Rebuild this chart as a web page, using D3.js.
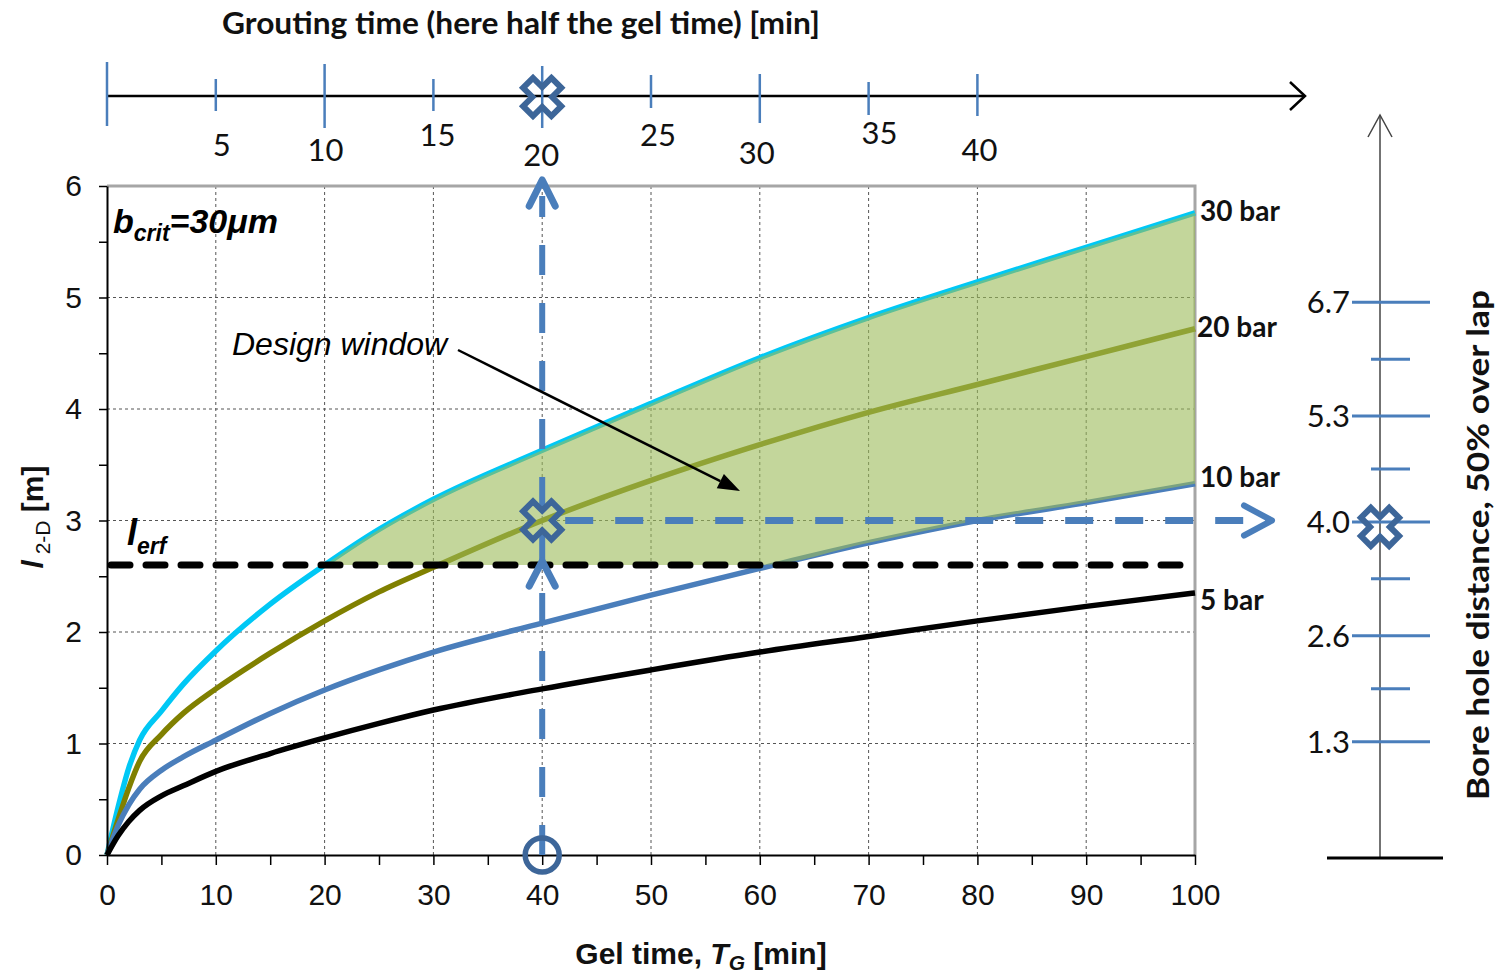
<!DOCTYPE html>
<html>
<head>
<meta charset="utf-8">
<script src="https://cdn.jsdelivr.net/npm/d3@7"></script>
<style>
  body { margin: 0; background: #fff; }
  svg { display: block; }
</style>
</head>
<body>
<svg id="chart" width="1496" height="977"></svg>
<script>
// ---- data -------------------------------------------------------------
const gelTime = [0, 1, 2, 3, 5, 7, 10, 15, 20, 25, 30, 40, 50, 60, 70, 80, 90, 100];
const bar30 = [0, 0.42, 0.78, 1.03, 1.29, 1.53, 1.83, 2.25, 2.60, 2.92, 3.19, 3.63, 4.05, 4.46, 4.82, 5.14, 5.45, 5.76];
const bar20 = [0, 0.31, 0.60, 0.84, 1.08, 1.27, 1.49, 1.81, 2.10, 2.36, 2.58, 3.00, 3.36, 3.68, 3.97, 4.22, 4.47, 4.72];
const bar10 = [0, 0.26, 0.45, 0.59, 0.76, 0.88, 1.03, 1.27, 1.48, 1.66, 1.82, 2.08, 2.33, 2.57, 2.80, 3.00, 3.16, 3.33];
const bar5  = [0, 0.17, 0.30, 0.40, 0.53, 0.62, 0.75, 0.91, 1.05, 1.18, 1.30, 1.49, 1.66, 1.82, 1.96, 2.10, 2.23, 2.35];
const seriesNames = ["30 bar", "20 bar", "10 bar", "5 bar"];
const seriesColors = ["#00c8f5", "#808000", "#4a7ebb", "#000000"];

const lErf = 2.6;               // required penetration length [m]
const designGelTime = 40;       // chosen gel time [min]
const designLength = 3.0;       // resulting l_2-D [m]
const designBoreDistance = 4.0; // bore hole distance at 50 % overlap

const xMajorTicks = [0, 10, 20, 30, 40, 50, 60, 70, 80, 90, 100];
const yMajorTicks = [0, 1, 2, 3, 4, 5, 6];
const groutTicks = [0, 5, 10, 15, 20, 25, 30, 35, 40];
const boreTicks = [1.3, 2.6, 4.0, 5.3, 6.7];
const boreMinorTicks = [1.95, 3.3, 4.65, 6.0];

// hand-placed offsets of the grouting-time scale (tick half lengths, label shifts)
const groutTickUp   = [34, 17, 32, 17, 30, 21, 22, 14, 22];
const groutTickDown = [30, 15, 32, 15, 32, 12, 27, 19, 20];
const groutLabelDx  = [0, 6, 1, 4, -1, 7, -3, 11, 2];
const groutLabelDy  = [0, 49, 54, 39, 59, 39, 57, 37, 54];

// ---- layout -----------------------------------------------------------
const svg = d3.select("#chart");
const x = d3.scaleLinear().domain([0, 100]).range([107, 1195]);
const y = d3.scaleLinear().domain([0, 6]).range([855, 186]);
const bore = d3.scaleLinear().domain([-0.13, 9.0]).range([858, 115]);
const groutY = 96;
const boreX = 1380;

const ARIAL = "'Liberation Sans', Arial, sans-serif";
const CAL = "Lato, 'Open Sans', sans-serif";
const markerBlue = "#3d6699";
const arrowBlue = "#4a7ebb";

// ---- grid ---------------------------------------------------------------
const grid = svg.append("g");
grid.selectAll("line.v").data(xMajorTicks.slice(1, -1)).join("line")
  .attr("x1", d => x(d)).attr("x2", d => x(d)).attr("y1", y(0)).attr("y2", y(6))
  .attr("stroke", "#555").attr("stroke-width", 1).attr("stroke-dasharray", "3,3");
grid.selectAll("line.h").data(yMajorTicks.slice(1, -1)).join("line")
  .attr("x1", x(0)).attr("x2", x(100)).attr("y1", d => y(d)).attr("y2", d => y(d))
  .attr("stroke", "#555").attr("stroke-width", 1).attr("stroke-dasharray", "3,3");

// plot frame (top / right)
svg.append("path")
  .attr("d", `M${x(0)},${y(6)}H${x(100)}V${y(0)}`)
  .attr("fill", "none").attr("stroke", "#a6a6a6").attr("stroke-width", 3);

// ---- curves -------------------------------------------------------------
const series = [bar30, bar20, bar10, bar5];
const line = d3.line().x((d, i) => x(gelTime[i])).y(d => y(d)).curve(d3.curveMonotoneX);
svg.append("g").selectAll("path").data(series).join("path")
  .attr("d", d => line(d))
  .attr("fill", "none")
  .attr("stroke", (d, i) => seriesColors[i])
  .attr("stroke-width", 5.5)
  .attr("stroke-linejoin", "round");

// ---- design window (between 30 bar and max(l_erf, 10 bar)) -------------
const windowIdx = gelTime.map((t, i) => i).filter(i => bar30[i] >= lErf);
const area = d3.area()
  .x(i => x(gelTime[i]))
  .y0(i => y(Math.max(lErf, bar10[i])))
  .y1(i => y(bar30[i]))
  .curve(d3.curveMonotoneX);
svg.append("path").attr("d", area(windowIdx))
  .attr("fill", "#9bbb59").attr("fill-opacity", 0.6);

// ---- axes ---------------------------------------------------------------
const xAxis = d3.axisBottom(x)
  .tickValues(d3.range(0, 101, 5))
  .tickFormat(d => xMajorTicks.includes(d) ? d : "")
  .tickSize(10).tickSizeOuter(0).tickPadding(19);
const gx = svg.append("g").attr("transform", `translate(0,${y(0)})`).call(xAxis);
const yAxis = d3.axisLeft(y)
  .tickValues(d3.range(0, 6.01, 0.5))
  .tickFormat(d => yMajorTicks.includes(d) ? d : "")
  .tickSize(8).tickSizeOuter(0).tickPadding(17);
const gy = svg.append("g").attr("transform", `translate(${x(0)},0)`).call(yAxis);
[gx, gy].forEach(g => {
  g.attr("font-family", ARIAL);
  g.select(".domain").attr("stroke", "#000").attr("stroke-width", 2);
  g.selectAll(".tick line").attr("stroke", "#000").attr("stroke-width", 1.5);
  g.selectAll(".tick text").attr("font-family", ARIAL).attr("font-size", 30).attr("fill", "#111");
});

// ---- l_erf line ---------------------------------------------------------
svg.append("line")
  .attr("x1", x(0) + 4).attr("x2", x(100) - 8)
  .attr("y1", y(lErf)).attr("y2", y(lErf))
  .attr("stroke", "#000").attr("stroke-width", 7)
  .attr("stroke-linecap", "round").attr("stroke-dasharray", "19,16");

// ---- design path (blue dashed arrows) -----------------------------------
const dx0 = x(designGelTime), dy0 = y(designLength);
svg.append("line")
  .attr("x1", dx0).attr("x2", dx0).attr("y1", y(0)).attr("y2", y(6) + 10)
  .attr("stroke", arrowBlue).attr("stroke-width", 6).attr("stroke-dasharray", "30,28");
function chevron(tipX, tipY, ax, ay, w) {
  svg.append("path")
    .attr("d", `M${tipX + ax.x},${tipY + ax.y}L${tipX},${tipY}L${tipX + ay.x},${tipY + ay.y}`)
    .attr("fill", "none").attr("stroke", arrowBlue).attr("stroke-width", w)
    .attr("stroke-linecap", "round").attr("stroke-linejoin", "round");
}
chevron(dx0, y(6) - 6, {x: -13, y: 26}, {x: 13, y: 26}, 7);
chevron(dx0, y(lErf) - 4, {x: -13, y: 25}, {x: 13, y: 25}, 7);

const horizEnd = 1272;
svg.append("line")
  .attr("x1", dx0 + 23).attr("x2", horizEnd - 4).attr("y1", dy0).attr("y2", dy0)
  .attr("stroke", arrowBlue).attr("stroke-width", 7).attr("stroke-dasharray", "28,22");
chevron(horizEnd, dy0, {x: -28, y: -15}, {x: -28, y: 15}, 6);

// markers
function crossPath(L, w) {
  const pts = [[-w,-L],[w,-L],[w,-w],[L,-w],[L,w],[w,w],[w,L],[-w,L],[-w,w],[-L,w],[-L,-w],[-w,-w]];
  const r = Math.SQRT1_2;
  return "M" + pts.map(([a, b]) => [(a - b) * r, (a + b) * r].join(",")).join("L") + "Z";
}
function cross(cx, cy) {
  svg.append("path").attr("d", crossPath(20, 7))
    .attr("transform", `translate(${cx},${cy})`)
    .attr("fill", "none").attr("stroke", markerBlue).attr("stroke-width", 6)
    .attr("stroke-linejoin", "miter");
}
svg.append("circle").attr("cx", dx0).attr("cy", y(0)).attr("r", 17)
  .attr("fill", "none").attr("stroke", markerBlue).attr("stroke-width", 5.5);
cross(dx0, dy0);

// ---- grouting time scale (top) ------------------------------------------
svg.append("line").attr("x1", x(0)).attr("x2", 1304).attr("y1", groutY).attr("y2", groutY)
  .attr("stroke", "#000").attr("stroke-width", 2.5);
svg.append("path").attr("d", `M1290,${groutY - 14}L1305,${groutY}L1290,${groutY + 14}`)
  .attr("fill", "none").attr("stroke", "#000").attr("stroke-width", 2.5);
const gt = svg.append("g").selectAll("g").data(groutTicks).join("g");
gt.append("line")
  .attr("x1", d => x(2 * d)).attr("x2", d => x(2 * d))
  .attr("y1", (d, i) => groutY - groutTickUp[i]).attr("y2", (d, i) => groutY + groutTickDown[i])
  .attr("stroke", arrowBlue).attr("stroke-width", 2.5);
gt.filter(d => d > 0).append("text")
  .attr("x", d => x(2 * d) + groutLabelDx[groutTicks.indexOf(d)])
  .attr("y", d => groutY + groutLabelDy[groutTicks.indexOf(d)] + 11)
  .attr("text-anchor", "middle")
  .attr("font-family", CAL).attr("font-size", 31).attr("fill", "#111")
  .text(d => d);
cross(x(designGelTime), groutY + 1);
svg.append("text").attr("x", 521).attr("y", 34).attr("text-anchor", "middle")
  .attr("font-family", CAL).attr("font-weight", 700).attr("font-size", 30)
  .attr("textLength", 598).attr("lengthAdjust", "spacingAndGlyphs").attr("fill", "#111")
  .text("Grouting time (here half the gel time) [min]");

// ---- bore hole distance scale (right) -----------------------------------
svg.append("line").attr("x1", boreX).attr("x2", boreX).attr("y1", bore(-0.13)).attr("y2", bore(9.0))
  .attr("stroke", "#444").attr("stroke-width", 1.5);
svg.append("path").attr("d", `M${boreX - 12},${bore(9.0) + 22}L${boreX},${bore(9.0)}L${boreX + 12},${bore(9.0) + 22}`)
  .attr("fill", "none").attr("stroke", "#444").attr("stroke-width", 1.5);
svg.append("line").attr("x1", 1327).attr("x2", 1443).attr("y1", bore(-0.13)).attr("y2", bore(-0.13))
  .attr("stroke", "#000").attr("stroke-width", 3);
svg.append("g").selectAll("line").data(boreTicks).join("line")
  .attr("x1", boreX - 28).attr("x2", boreX + 50)
  .attr("y1", d => bore(d)).attr("y2", d => bore(d))
  .attr("stroke", arrowBlue).attr("stroke-width", 3);
svg.append("g").selectAll("line").data(boreMinorTicks).join("line")
  .attr("x1", boreX - 9).attr("x2", boreX + 30)
  .attr("y1", d => bore(d)).attr("y2", d => bore(d))
  .attr("stroke", arrowBlue).attr("stroke-width", 3);
svg.append("g").selectAll("text").data(boreTicks).join("text")
  .attr("x", 1350).attr("y", d => bore(d) + 11)
  .attr("text-anchor", "end")
  .attr("font-family", CAL).attr("font-size", 31).attr("fill", "#111")
  .text(d => d.toFixed(1));
cross(boreX, bore(designBoreDistance) + 5);
svg.append("text")
  .attr("transform", `translate(1489,545) rotate(-90)`)
  .attr("text-anchor", "middle")
  .attr("font-family", CAL).attr("font-weight", 700).attr("font-size", 30)
  .attr("textLength", 510).attr("lengthAdjust", "spacingAndGlyphs").attr("fill", "#111")
  .text("Bore hole distance, 50% over lap");

// ---- curve labels ---------------------------------------------------------
const labelDy = [8, 8, 3, 17];
svg.append("g").selectAll("text").data(series).join("text")
  .attr("x", (d, i) => x(100) + (i === 1 ? 2 : 5))
  .attr("y", (d, i) => y(d[d.length - 1]) + labelDy[i])
  .attr("font-family", CAL).attr("font-weight", 700).attr("font-size", 28).attr("fill", "#111")
  .text((d, i) => seriesNames[i]);

// ---- annotations ----------------------------------------------------------
const bcrit = svg.append("text").attr("x", 113).attr("y", 233)
  .attr("font-family", ARIAL).attr("font-weight", 700).attr("font-style", "italic")
  .attr("font-size", 34).attr("fill", "#000");
bcrit.append("tspan").text("b");
bcrit.append("tspan").attr("font-size", 23).attr("dy", 8).text("crit");
bcrit.append("tspan").attr("dy", -8).text("=30μm");

const lerfLabel = svg.append("text").attr("x", 127).attr("y", 545)
  .attr("font-family", ARIAL).attr("font-weight", 700).attr("font-style", "italic")
  .attr("font-size", 36).attr("fill", "#000");
lerfLabel.append("tspan").text("l");
lerfLabel.append("tspan").attr("font-size", 23).attr("dy", 9).text("erf");

svg.append("text").attr("x", 232).attr("y", 355)
  .attr("font-family", ARIAL).attr("font-style", "italic").attr("font-size", 32).attr("fill", "#000")
  .text("Design window");
{
  const x1 = 458, y1 = 350, x2 = 740, y2 = 491;
  const ang = Math.atan2(y2 - y1, x2 - x1);
  const hl = 22, hw = 8;
  const bx = x2 - hl * Math.cos(ang), by = y2 - hl * Math.sin(ang);
  svg.append("line").attr("x1", x1).attr("y1", y1).attr("x2", bx).attr("y2", by)
    .attr("stroke", "#000").attr("stroke-width", 2.5);
  svg.append("path")
    .attr("d", `M${x2},${y2}L${bx - hw * Math.sin(ang)},${by + hw * Math.cos(ang)}L${bx + hw * Math.sin(ang)},${by - hw * Math.cos(ang)}Z`)
    .attr("fill", "#000");
}

// axis titles
const xt = svg.append("text").attr("x", 701).attr("y", 964).attr("text-anchor", "middle")
  .attr("font-family", ARIAL).attr("font-weight", 700).attr("font-size", 30).attr("fill", "#111");
xt.append("tspan").text("Gel time, ");
xt.append("tspan").attr("font-style", "italic").text("T");
xt.append("tspan").attr("font-style", "italic").attr("font-size", 21).attr("dy", 6).text("G");
xt.append("tspan").attr("dy", -6).text(" [min]");

const yt = svg.append("text").attr("transform", "translate(43,517) rotate(-90)").attr("text-anchor", "middle")
  .attr("font-family", ARIAL).attr("font-weight", 700).attr("font-size", 30).attr("fill", "#111");
yt.append("tspan").attr("font-style", "italic").text("l");
yt.append("tspan").attr("font-size", 21).attr("font-weight", 400).attr("dy", 7).text(" 2-D");
yt.append("tspan").attr("dy", -7).text(" [m]");
</script>
</body>
</html>
